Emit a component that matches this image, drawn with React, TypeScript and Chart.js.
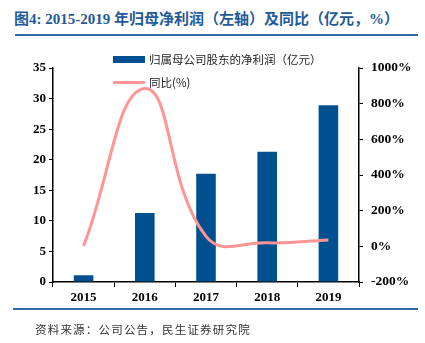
import React, { useEffect, useRef } from "react";
import { Chart, registerables } from "chart.js";

Chart.register(...registerables);

const years = ["2015", "2016", "2017", "2018", "2019"];
const netProfit = [1.1, 11.3, 17.7, 21.3, 28.9];
const yoy = [2, 885, 56, 20, 36];
const leftTicks = { min: 0, max: 35, step: 5 };
const rightTicks = { min: -200, max: 1000, step: 200 };

const BAR_COLOR = "#00508F";
const LINE_COLOR = "#FF9595";
const TITLE_COLOR = "#1F5A99";
const SERIF = "'Liberation Serif', 'Times New Roman', serif";
const CJK = "'Noto Sans CJK SC', sans-serif";

export default function App() {
  const ref = useRef<HTMLCanvasElement>(null);
  useEffect(() => {
    document.body.style.margin = "0";
    const ctx = ref.current!;
    const chart = new Chart(ctx, {
      type: "bar",
      data: {
        labels: years,
        datasets: [
          {
            type: "line",
            label: "同比(%)",
            data: yoy,
            yAxisID: "y1",
            borderColor: LINE_COLOR,
            borderWidth: 3,
            pointRadius: 0,
            tension: 0.45,
            order: 0,
          } as any,
          {
            type: "bar",
            label: "归属母公司股东的净利润（亿元）",
            data: netProfit,
            yAxisID: "y",
            backgroundColor: BAR_COLOR,
            barPercentage: 0.32,
            categoryPercentage: 1,
            order: 1,
          },
        ],
      },
      options: {
        responsive: false,
        animation: false,
        layout: { padding: { left: 6, right: 9, top: 68, bottom: 31 } },
        plugins: { legend: { display: false }, tooltip: { enabled: false } },
        scales: {
          x: {
            grid: { drawOnChartArea: false, drawTicks: true, tickLength: 5, color: "#000", offset: true },
            border: { display: true, color: "#000", width: 1.5 },
            ticks: { color: "#000", font: { family: SERIF, size: 13, weight: "bold" }, padding: 3 },
            afterFit: (s: any) => { s.height = 30; },
          },
          y: {
            position: "left",
            min: leftTicks.min,
            max: leftTicks.max,
            grid: { drawOnChartArea: false, drawTicks: true, tickLength: 4, color: "#000" },
            border: { display: true, color: "#000", width: 1.5 },
            ticks: { stepSize: leftTicks.step, color: "#000", font: { family: SERIF, size: 13, weight: "bold" }, padding: 3 },
            afterFit: (s: any) => { s.width = 47; },
          },
          y1: {
            position: "right",
            min: rightTicks.min,
            max: rightTicks.max,
            grid: { drawOnChartArea: false, drawTicks: true, tickLength: 4, color: "#000" },
            border: { display: true, color: "#000", width: 1.5 },
            ticks: {
              stepSize: rightTicks.step,
              color: "#000",
              font: { family: SERIF, size: 13.5, weight: "bold" },
              padding: 8,
              callback: (v: any) => v + "%",
            },
            afterFit: (s: any) => { s.width = 57; },
          },
        },
      },
    });
    return () => chart.destroy();
  }, []);

  return (
    <div style={{ position: "fixed", left: 0, top: 0, width: 425, height: 343, background: "#fff", overflow: "hidden" }}>
      <div
        style={{
          position: "absolute", left: 14, top: 7, whiteSpace: "nowrap",
          fontFamily: `${SERIF}, ${CJK}`, fontWeight: "bold", fontSize: 15, color: TITLE_COLOR,
        }}
      >
        图4: 2015-2019 年归母净利润（左轴）及同比（亿元，%）
      </div>
      <div style={{ position: "absolute", left: 15, top: 34, width: 403, height: 1.5, background: "#2D6AAA" }} />
      <canvas ref={ref} width={425} height={343} style={{ position: "absolute", left: 0, top: 0 }} />
      <div style={{ position: "absolute", left: 113, top: 56, width: 32, height: 7, background: BAR_COLOR }} />
      <div style={{ position: "absolute", left: 149, top: 51, fontFamily: CJK, fontSize: 11.5, color: "#222", whiteSpace: "nowrap" }}>
        归属母公司股东的净利润（亿元）
      </div>
      <div style={{ position: "absolute", left: 113, top: 81, width: 32, height: 3, background: LINE_COLOR }} />
      <div style={{ position: "absolute", left: 149, top: 74, fontFamily: CJK, fontSize: 11.5, color: "#222", whiteSpace: "nowrap" }}>
        同比(%)
      </div>
      <div style={{ position: "absolute", left: 13, top: 308, width: 405, height: 1.5, background: "#2D6AAA" }} />
      <div style={{ position: "absolute", left: 35, top: 321, fontFamily: CJK, fontSize: 11.5, letterSpacing: 1.2, color: "#333", whiteSpace: "nowrap" }}>
        资料来源：公司公告，民生证券研究院
      </div>
    </div>
  );
}
